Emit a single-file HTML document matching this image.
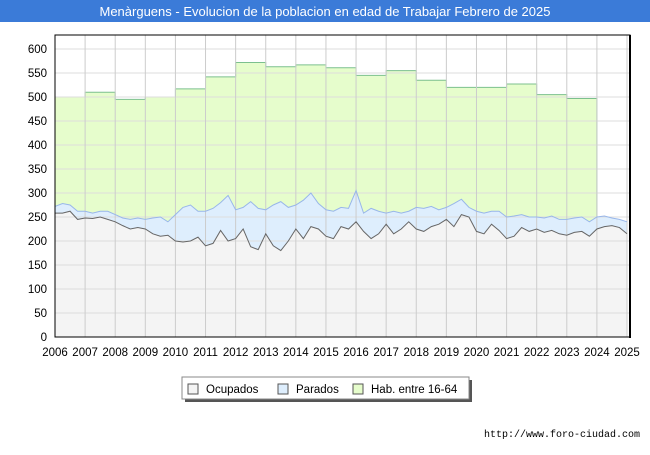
<!DOCTYPE html>
<html><head><meta charset="utf-8"><style>
body{margin:0;width:650px;height:450px;background:#fff;font-family:"Liberation Sans",sans-serif;overflow:hidden}
</style></head><body>
<svg width="650" height="450" xmlns="http://www.w3.org/2000/svg">
<rect x="0" y="0" width="650" height="22" fill="#3b7bd8"/>
<text x="325" y="16" text-anchor="middle" fill="#fff" font-size="13">Menàrguens - Evolucion de la poblacion en edad de Trabajar Febrero de 2025</text>
<g id="plot"></g>
<text x="640" y="437" text-anchor="end" font-size="10" font-family="Liberation Mono" fill="#000">http://www.foro-ciudad.com</text>
</svg>
<script>
const years=[2006,2007,2008,2009,2010,2011,2012,2013,2014,2015,2016,2017,2018,2019,2020,2021,2022,2023,2024,2025];
const yTicks=[0,50,100,150,200,250,300,350,400,450,500,550,600];
const habYears=[2006,2007,2008,2009,2010,2011,2012,2013,2014,2015,2016,2017,2018,2019,2020,2021,2022,2023];
const habValues=[500,510,495,500,517,542,572,563,567,561,545,555,535,520,520,527,505,497];
const ocupados=[258,258,262,245,248,247,250,245,240,232,225,228,225,215,210,212,200,198,200,208,190,195,222,200,205,225,188,182,215,190,180,200,225,205,230,225,210,205,230,225,240,220,205,215,235,215,225,240,225,220,230,235,245,230,255,250,220,215,235,222,205,210,228,220,225,218,222,215,212,218,220,210,225,230,232,228,215];
const parados=[14,20,13,17,14,11,12,17,15,16,20,20,20,33,40,28,55,72,75,54,72,73,58,95,60,45,94,86,50,85,102,70,50,80,70,53,55,57,40,43,65,38,63,47,23,47,33,22,45,48,42,30,25,48,32,20,42,43,27,40,45,42,27,30,25,30,30,30,33,30,30,30,25,22,16,17,25];
const legendLabels=["Ocupados","Parados","Hab. entre 16-64"];
const NS="http://www.w3.org/2000/svg";
const X0=55,X1=627,Y0=337,Y1=49;
const xs=t=>X0+(t-2006)/(2025-2006)*(X1-X0);
const ys=v=>Y0-(v/600)*(Y0-Y1);
const g=document.getElementById('plot');
function mk(tag,attrs,parent){const e=document.createElementNS(NS,tag);for(const k in attrs)e.setAttribute(k,attrs[k]);(parent||g).appendChild(e);return e;}
const bg=mk('rect',{x:X0,y:35,width:575,height:302,fill:'#fff'});


// hab step
let hp='M'+xs(2006)+','+Y0;
habYears.forEach((y,i)=>{hp+=' L'+xs(y)+','+ys(habValues[i])+' L'+xs(y+1)+','+ys(habValues[i]);});
hp+=' L'+xs(2024)+','+Y0+' Z';
const hab=mk('path',{d:hp,fill:'#e6fdcc',stroke:'#7cc08e','stroke-width':1});


const tx=i=>xs(2006+i/4);
let tot='',oc='';
ocupados.forEach((v,i)=>{tot+=(i?' L':'M')+tx(i)+','+ys(v+parados[i]);oc+=(i?' L':'M')+tx(i)+','+ys(v);});
const last=ocupados.length-1;
const pf=mk('path',{d:tot+' L'+tx(last)+','+Y0+' L'+X0+','+Y0+' Z',fill:'#deeefd',stroke:'none'});


const of=mk('path',{d:oc+' L'+tx(last)+','+Y0+' L'+X0+','+Y0+' Z',fill:'#f4f4f4',stroke:'none'});


// grid on top of fills
yTicks.forEach(v=>{const l=mk('line',{x1:X0,x2:630,y1:ys(v),y2:ys(v),stroke:'#ddd'});


const t=mk('text',{x:X0-8,y:ys(v)+4,'text-anchor':'end','font-size':'11.5',fill:'#000'});t.textContent=v;

});
years.forEach(y=>{const l=mk('line',{x1:xs(y),x2:xs(y),y1:35,y2:Y0,stroke:'#ccc'});


const t=mk('text',{x:xs(y),y:356,'text-anchor':'middle','font-size':'11.5',fill:'#000'});t.textContent=y;

});
const pl=mk('path',{d:tot,fill:'none',stroke:'#98b6ea','stroke-width':1});


const ol=mk('path',{d:oc,fill:'none',stroke:'#666','stroke-width':1});


const fr=mk('rect',{x:X0,y:35,width:575,height:302,fill:'none',stroke:'#000','stroke-width':1});


mk('line',{x1:630,x2:630,y1:35,y2:338,stroke:'#000','stroke-width':2});
// legend
const lg=mk('g',{});


mk('rect',{x:185,y:380,width:287,height:22,fill:'#555'},lg);
mk('rect',{x:182,y:377,width:287,height:22,fill:'#fff',stroke:'#888'},lg);
const lcol=['#f4f4f4','#deeefd','#e6fdcc'],lx=[188,278,353];
legendLabels.forEach((s,i)=>{const r=mk('rect',{x:lx[i],y:384,width:10,height:10,fill:lcol[i],stroke:'#555'},lg);


const t=mk('text',{x:lx[i]+18,y:393,'font-size':'11.5',fill:'#000'},lg);t.textContent=s;

});
</script>
</body></html>
